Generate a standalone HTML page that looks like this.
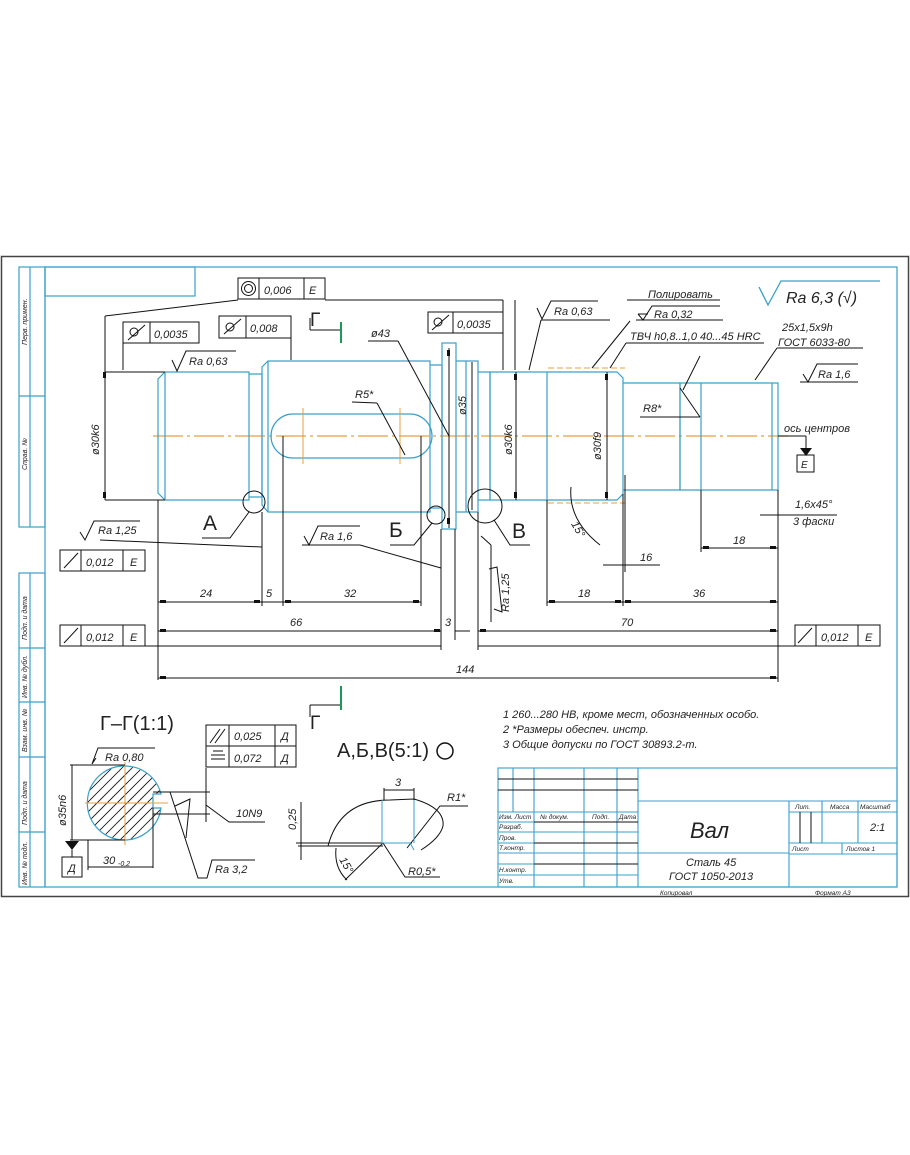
<!DOCTYPE html>
<html><head><meta charset="utf-8"><style>
html,body{margin:0;padding:0;background:#fff;}
svg{display:block;}
text{font-family:"Liberation Sans",sans-serif;font-style:italic;fill:#222;}
</style></head><body>
<svg width="910" height="1155" viewBox="0 0 910 1155" xmlns="http://www.w3.org/2000/svg">
<rect x="0" y="0" width="910" height="1155" fill="#fff"/>
<rect x="1.5" y="256.5" width="907" height="640" fill="none" stroke="#444" stroke-width="1.5"/>
<g fill="none" stroke="#3aa0c8" stroke-width="1.2">
<rect x="45" y="267" width="852" height="620"/>
<rect x="19" y="267" width="26" height="260"/>
<line x1="30" y1="267" x2="30" y2="527"/>
<line x1="19" y1="396" x2="45" y2="396"/>
<rect x="19" y="573" width="26" height="314"/>
<line x1="30" y1="573" x2="30" y2="887"/>
<line x1="19" y1="648" x2="45" y2="648"/>
<line x1="19" y1="702" x2="45" y2="702"/>
<line x1="19" y1="757" x2="45" y2="757"/>
<line x1="19" y1="832" x2="45" y2="832"/>
<rect x="45" y="267" width="150" height="29"/>
</g>
<g font-size="7" >
<text transform="translate(27,345) rotate(-90)">Перв. примен.</text>
<text transform="translate(27,470) rotate(-90)">Справ. №</text>
<text transform="translate(27,640) rotate(-90)">Подп. и дата</text>
<text transform="translate(27,698) rotate(-90)">Инв. № дубл.</text>
<text transform="translate(27,752) rotate(-90)">Взам. инв. №</text>
<text transform="translate(27,825) rotate(-90)">Подп. и дата</text>
<text transform="translate(27,885) rotate(-90)">Инв. № подл.</text>
</g>

<line x1="153" y1="436" x2="788" y2="436" stroke="#e8a040" stroke-width="1.2" stroke-dasharray="30,4,3,4"/>

<g fill="none" stroke="#3aa0c8" stroke-width="1.2">
<path d="M165,372 L249,372 L249,500 L165,500 L158,493 L158,379 Z"/>
<line x1="165" y1="372" x2="165" y2="500"/>
<path d="M249,374 L262,374 L262,497 L249,497"/>
<path d="M268,361 L430,361 L430,512 L268,512 L262,505 L262,367 Z"/>
<line x1="268" y1="361" x2="268" y2="512"/>
<path d="M430,365 L442,365 L442,508 L430,508"/>
<rect x="442" y="343" width="14" height="186"/>
<path d="M456,361 L478,361 L478,512 L456,512"/>
<line x1="466" y1="361" x2="466" y2="512"/>
<path d="M478,372 L490,372 L490,500 L478,500"/>
<path d="M490,372 L617,372 L623,378 L623,494 L617,500 L490,500 Z"/>
<line x1="547" y1="372" x2="547" y2="500"/>
<path d="M623,383 L680,383 L680,490 L623,490"/>
<path d="M680,383 L778,383 L778,490 L680,490 Z"/>
<line x1="701" y1="383" x2="701" y2="490"/>
<line x1="772" y1="383" x2="772" y2="490"/>
<path d="M293,414 L410,414 A22,22 0 0 1 410,458 L293,458 A22,22 0 0 1 293,414 Z"/>
</g>
<g stroke="#e8a040" stroke-width="1">
<line x1="303" y1="408" x2="303" y2="464"/>
<line x1="400" y1="408" x2="400" y2="464"/>
<line x1="548" y1="368" x2="625" y2="368" stroke-dasharray="6,3"/>
<line x1="548" y1="503" x2="625" y2="503" stroke-dasharray="6,3"/>
</g>

<g fill="none" stroke="#111" stroke-width="1">
<line x1="158" y1="500" x2="158" y2="680"/>
<line x1="262" y1="512" x2="262" y2="606"/>
<line x1="283" y1="436" x2="283" y2="606"/>
<line x1="421" y1="436" x2="421" y2="606"/>
<line x1="441" y1="529" x2="441" y2="650"/>
<line x1="455" y1="529" x2="455" y2="640"/>
<line x1="478" y1="512" x2="478" y2="650"/>
<line x1="547" y1="500" x2="547" y2="606"/>
<line x1="623" y1="494" x2="623" y2="606"/>
<line x1="778" y1="490" x2="778" y2="682"/>
<line x1="701" y1="490" x2="701" y2="552"/>
<line x1="625" y1="475" x2="625" y2="572"/>
<line x1="158" y1="602" x2="262" y2="602"/>
<line x1="262" y1="602" x2="283" y2="602"/>
<line x1="283" y1="602" x2="421" y2="602"/>
<line x1="547" y1="602" x2="778" y2="602"/>
<line x1="158" y1="631" x2="441" y2="631"/>
<line x1="455" y1="631" x2="470" y2="631"/>
<line x1="478" y1="631" x2="778" y2="631"/>
<line x1="60" y1="646" x2="441" y2="646"/>
<line x1="478" y1="646" x2="795" y2="646"/>
<line x1="158" y1="678" x2="778" y2="678"/>
<line x1="701" y1="548" x2="778" y2="548"/>
<line x1="603" y1="565" x2="660" y2="565"/>
<line x1="760" y1="515" x2="815" y2="515"/>
<line x1="105" y1="372" x2="165" y2="372"/>
<line x1="105" y1="500" x2="165" y2="500"/>
<line x1="105" y1="366" x2="105" y2="500"/>
<line x1="105" y1="316" x2="105" y2="372"/>
<line x1="105" y1="316" x2="238" y2="300"/>
<line x1="123" y1="343" x2="123" y2="370"/>
<line x1="291" y1="338" x2="291" y2="360"/>
<line x1="449" y1="348" x2="449" y2="528"/>
<line x1="472" y1="362" x2="472" y2="510"/>
<line x1="516" y1="372" x2="516" y2="500"/>
<line x1="607" y1="372" x2="607" y2="500"/>
<line x1="503" y1="322" x2="503" y2="300"/>
<line x1="503" y1="300" x2="325" y2="300"/>
<line x1="503" y1="322" x2="503" y2="370"/>
<line x1="515" y1="300" x2="515" y2="370"/>
<line x1="368" y1="341" x2="398" y2="341"/>
<line x1="398" y1="341" x2="449" y2="436"/>
<line x1="352" y1="402" x2="377" y2="403"/>
<line x1="377" y1="403" x2="405" y2="455"/>
<circle cx="254" cy="502" r="11"/>
<path d="M249,512 L230,538 L202,538"/>
<circle cx="436" cy="515" r="9"/>
<path d="M432,523 L414,545 L390,545"/>
<circle cx="485" cy="506" r="17"/>
<path d="M494,520 L510,545 L530,545"/>
<line x1="100" y1="540" x2="262" y2="547"/>
<line x1="302" y1="545" x2="360" y2="545"/>
<line x1="360" y1="545" x2="441" y2="568"/>
<line x1="481" y1="536" x2="491" y2="545"/>
<line x1="491" y1="545" x2="491" y2="622"/>
<line x1="541" y1="320" x2="610" y2="320"/>
<line x1="541" y1="320" x2="529" y2="370"/>
<line x1="627" y1="300" x2="720" y2="300"/>
<line x1="636" y1="320" x2="723" y2="320"/>
<line x1="630" y1="321" x2="592" y2="368"/>
<line x1="626" y1="343" x2="764" y2="343"/>
<line x1="626" y1="343" x2="610" y2="368"/>
<line x1="777" y1="348" x2="863" y2="348"/>
<line x1="777" y1="348" x2="755" y2="380"/>
<line x1="800" y1="382" x2="858" y2="382"/>
<line x1="700" y1="417" x2="640" y2="417"/>
<line x1="700" y1="417" x2="680" y2="388"/>
<line x1="700" y1="356" x2="683" y2="390"/>
<line x1="778" y1="436" x2="806" y2="436"/>
<line x1="806" y1="436" x2="806" y2="455"/>
<line x1="787" y1="515" x2="837" y2="515"/>
<path d="M571,487 Q568,520 600,545"/>
</g>
<polygon points="800,448 812,448 806,456" fill="#111"/>
<rect x="797" y="455" width="17" height="17" fill="none" stroke="#111"/>
<text x="801" y="468" font-size="10">E</text>

<g fill="#111">
<rect x="160" y="600" width="6" height="3"/><rect x="254" y="600" width="6" height="3"/>
<rect x="285" y="600" width="6" height="3"/><rect x="413" y="600" width="6" height="3"/>
<rect x="549" y="600" width="6" height="3"/><rect x="615" y="600" width="6" height="3"/>
<rect x="625" y="600" width="6" height="3"/><rect x="770" y="600" width="6" height="3"/>
<rect x="160" y="629" width="6" height="3"/><rect x="434" y="629" width="6" height="3"/>
<rect x="480" y="629" width="6" height="3"/><rect x="770" y="629" width="6" height="3"/>
<rect x="160" y="676" width="6" height="3"/><rect x="770" y="676" width="6" height="3"/>
<rect x="703" y="546" width="6" height="3"/><rect x="770" y="546" width="6" height="3"/>
<rect x="103" y="372" width="3" height="6"/><rect x="103" y="492" width="3" height="6"/>
<rect x="514" y="374" width="3" height="6"/><rect x="514" y="492" width="3" height="6"/>
<rect x="605" y="374" width="3" height="6"/><rect x="605" y="492" width="3" height="6"/>
<rect x="447" y="350" width="3" height="6"/><rect x="447" y="518" width="3" height="6"/>
</g>

<g fill="none" stroke="#111" stroke-width="1">
<rect x="238" y="278" width="87" height="21"/><line x1="259" y1="278" x2="259" y2="299"/><line x1="304" y1="278" x2="304" y2="299"/>
<circle cx="248.5" cy="288.5" r="7"/><circle cx="248.5" cy="288.5" r="4"/>
<rect x="123" y="322" width="76" height="21"/><line x1="150" y1="322" x2="150" y2="343"/>
<rect x="219" y="316" width="72" height="22"/><line x1="246" y1="316" x2="246" y2="338"/>
<rect x="428" y="312" width="75" height="21"/><line x1="453" y1="312" x2="453" y2="333"/>
<rect x="60" y="550" width="85" height="21"/><line x1="81" y1="550" x2="81" y2="571"/><line x1="123" y1="550" x2="123" y2="571"/>
<rect x="60" y="625" width="85" height="21"/><line x1="81" y1="625" x2="81" y2="646"/><line x1="123" y1="625" x2="123" y2="646"/>
<rect x="795" y="625" width="85" height="21"/><line x1="816" y1="625" x2="816" y2="646"/><line x1="858" y1="625" x2="858" y2="646"/>
<path d="M64,568 L78,553 M798,643 L812,628 M64,643 L78,628"/>
<path d="M128,340 L145,325 M130,332 a4,4 0 1 0 8,0 a4,4 0 1 0 -8,0 M224,334 L241,319 M226,327 a4,4 0 1 0 8,0 a4,4 0 1 0 -8,0 M432,330 L449,315 M434,322 a4,4 0 1 0 8,0 a4,4 0 1 0 -8,0"/>
</g>
<g font-size="11">
<text x="264" y="294">0,006</text><text x="309" y="294">E</text>
<text x="154" y="338">0,0035</text>
<text x="250" y="332">0,008</text>
<text x="457" y="328">0,0035</text>
<text x="86" y="566">0,012</text><text x="130" y="566">E</text>
<text x="86" y="641">0,012</text><text x="130" y="641">E</text>
<text x="821" y="641">0,012</text><text x="865" y="641">E</text>
</g>

<g fill="none" stroke="#111" stroke-width="1">
<path d="M172,360 L177,371 L186,351 L236,351"/>
<path d="M537,308 L542,319 L551,301 L598,301"/>
<path d="M80,532 L85,540 L94,521 L140,521"/>
<path d="M304,536 L309,545 L318,526 L360,526"/>
<path d="M638,314 L643,320 L652,306 L720,306 M638,314 L648,314"/>
<path d="M803,374 L808,382 L817,364 L858,364"/>
<path d="M759,287 L768,305 L781,281 L880,281" stroke="#3aa0c8" stroke-width="1.3"/>
<path d="M494,609 L502,612 L497,567 L489,569"/>
</g>
<g font-size="11">
<text x="189" y="365">Ra 0,63</text>
<text x="554" y="315">Ra 0,63</text>
<text x="98" y="534">Ra 1,25</text>
<text x="320" y="540">Ra 1,6</text>
<text x="648" y="298">Полировать</text>
<text x="654" y="318">Ra 0,32</text>
<text x="630" y="340">ТВЧ h0,8..1,0  40...45 HRC</text>
<text x="782" y="331">25х1,5х9h</text>
<text x="778" y="346">ГОСТ 6033-80</text>
<text x="818" y="378">Ra 1,6</text>
<text x="786" y="303" font-size="16">Ra 6,3 (√)</text>
<text x="784" y="432">ось центров</text>
<text x="643" y="412">R8*</text>
<text x="355" y="398">R5*</text>
<text x="371" y="337">ø43</text>
<text x="795" y="508">1,6х45°</text>
<text x="793" y="525">3 фаски</text>
<text x="733" y="544">18</text>
<text x="640" y="561">16</text>
<text x="200" y="597">24</text>
<text x="266" y="597">5</text>
<text x="344" y="597">32</text>
<text x="578" y="597">18</text>
<text x="693" y="597">36</text>
<text x="290" y="626">66</text>
<text x="445" y="626">3</text>
<text x="621" y="626">70</text>
<text x="456" y="673">144</text>
<text x="572" y="528" transform="rotate(60,575,525)">15°</text>
<text transform="translate(99,455) rotate(-90)">ø30k6</text>
<text transform="translate(466,415) rotate(-90)">ø35</text>
<text transform="translate(512,455) rotate(-90)">ø30k6</text>
<text transform="translate(601,460) rotate(-90)">ø30f9</text>
<text transform="translate(509,612) rotate(-90)">Ra 1,25</text>
</g>
<text x="203" y="530" font-size="21" style="font-style:normal">А</text>
<text x="389" y="537" font-size="21" style="font-style:normal">Б</text>
<text x="512" y="538" font-size="21" style="font-style:normal">В</text>
<g stroke="#111" fill="none">
<path d="M310,330 L340,330 M310,330 L310,318"/>
<path d="M310,705 L340,705 M310,705 L310,717"/>
</g>
<line x1="341" y1="322" x2="341" y2="343" stroke="#1a9a5a" stroke-width="2"/>
<line x1="341" y1="686" x2="341" y2="710" stroke="#1a9a5a" stroke-width="2"/>
<text x="310" y="326" font-size="19" style="font-style:normal">Г</text>
<text x="310" y="729" font-size="19" style="font-style:normal">Г</text>

<text x="100" y="730" font-size="20" style="font-style:normal">Г–Г(1:1)</text>
<defs><clipPath id="cc"><path d="M125,766 A37,37 0 1 0 161,808 L153,808 L153,794 L161,794 A37,37 0 0 0 125,766 Z"/></clipPath></defs>
<g clip-path="url(#cc)" stroke="#111" stroke-width="0.8">
<path d="M80,790 l40,-40 M80,800 l50,-50 M80,810 l60,-60 M80,820 l70,-70 M80,830 l80,-80 M80,840 l90,-90 M85,845 l90,-90 M95,845 l80,-80 M105,845 l70,-70 M115,845 l60,-60 M125,845 l50,-50 M135,845 l40,-40"/>
</g>
<path d="M125,766 A37,37 0 1 0 161,808 L153,808 L153,794 L161,794 A37,37 0 0 0 125,766 Z" fill="none" stroke="#3aa0c8" stroke-width="1.2"/>
<g stroke="#e8a040"><line x1="85" y1="803" x2="168" y2="803"/><line x1="125" y1="762" x2="125" y2="845"/></g>
<g fill="none" stroke="#111">
<path d="M70,765 L125,765 M72,765 L72,840 M70,840 L125,840 M88,840 L88,870 M153,808 L153,868 M88,867 L153,867"/>
<path d="M92,764 L98,748 L155,748 M92,764 L96,758"/>
<path d="M153,792 L210,792 M153,814 L210,814 M206,768 L206,822 M206,805 L229,822 L265,822"/>
<path d="M170,792 L198,878 L207,878 L212,860 L255,860 M175,806 L190,799 L186,838"/>
<rect x="206" y="725" width="90" height="42"/>
<path d="M206,746 L296,746 M229,725 L229,767 M275,725 L275,767 M210,743 L220,729 M215,743 L225,729 M211,755 L225,755 M211,759 L225,759 M213,751 L223,751"/>
<rect x="62" y="857" width="20" height="20"/>
</g>
<polygon points="65,841 79,841 72,850" fill="#111"/>
<line x1="72" y1="850" x2="72" y2="857" stroke="#111"/>
<g font-size="11">
<text x="105" y="761">Ra 0,80</text>
<text transform="translate(66,826) rotate(-90)">ø35n6</text>
<text x="103" y="864">30</text><text x="118" y="866" font-size="7">-0,2</text>
<text x="68" y="872">Д</text>
<text x="236" y="817">10N9</text>
<text x="215" y="873">Ra 3,2</text>
<text x="234" y="740">0,025</text><text x="281" y="740">Д</text>
<text x="234" y="762">0,072</text><text x="281" y="762">Д</text>
</g>

<text x="337" y="757" font-size="20" style="font-style:normal">А,Б,В(5:1)</text>
<circle cx="445" cy="751" r="8" fill="none" stroke="#111" stroke-width="1.5"/>
<g fill="none" stroke="#111">
<path d="M328,846 Q340,800 390,800 L414,799 Q445,808 443,826 Q440,838 421,850"/>
<path d="M298,843 L383,843 L412,843 M298,846 L383,846"/>
<path d="M383,843 L345,880 M383,843 L405,877 L440,877"/>
<path d="M384,790 L414,790 M384,800 L384,788 M414,800 L414,788"/>
<path d="M301,802 L301,860 M296,843 L306,843"/>
<path d="M407,848 L440,806 L468,806"/>
<path d="M336,848 Q334,868 347,880"/>
</g>
<g stroke="#3aa0c8" fill="none"><path d="M382,800 L382,843 L410,843 L414,850 M414,800 L414,843"/></g>
<g font-size="11">
<text x="395" y="786">3</text>
<text x="447" y="801">R1*</text>
<text x="408" y="875">R0,5*</text>
<text transform="translate(296,830) rotate(-90)">0,25</text>
<text x="340" y="866" transform="rotate(60,345,862)">15°</text>
</g>

<g font-size="11">
<text x="503" y="718">1 260...280 НВ, кроме мест, обозначенных особо.</text>
<text x="503" y="733">2  *Размеры обеспеч. инстр.</text>
<text x="503" y="748">3 Общие допуски по ГОСТ 30893.2-m.</text>
</g>

<g fill="none" stroke="#3aa0c8" stroke-width="1.1">
<rect x="498" y="768" width="399" height="119"/>
<line x1="638" y1="801" x2="897" y2="801"/>
<line x1="498" y1="779" x2="638" y2="779"/><line x1="498" y1="790" x2="638" y2="790"/>
<line x1="498" y1="812" x2="638" y2="812"/><line x1="498" y1="822" x2="638" y2="822"/>
<line x1="498" y1="832" x2="638" y2="832"/><line x1="498" y1="843" x2="638" y2="843"/>
<line x1="498" y1="853" x2="638" y2="853"/><line x1="498" y1="864" x2="638" y2="864"/>
<line x1="498" y1="875" x2="638" y2="875"/>
<line x1="513" y1="768" x2="513" y2="812"/>
<line x1="534" y1="768" x2="534" y2="887"/><line x1="584" y1="768" x2="584" y2="887"/>
<line x1="617" y1="768" x2="617" y2="887"/><line x1="638" y1="768" x2="638" y2="887"/>
<line x1="638" y1="853" x2="789" y2="853"/>
<line x1="789" y1="801" x2="789" y2="887"/>
<line x1="789" y1="812" x2="897" y2="812"/>
<line x1="789" y1="843" x2="897" y2="843"/>
<line x1="789" y1="854" x2="897" y2="854"/>
<line x1="822" y1="801" x2="822" y2="843"/><line x1="858" y1="801" x2="858" y2="843"/>
<line x1="842" y1="843" x2="842" y2="854"/>
</g>
<g stroke="#111"><line x1="498" y1="779" x2="638" y2="779"/><line x1="498" y1="790" x2="638" y2="790"/><line x1="534" y1="822" x2="638" y2="822"/><line x1="534" y1="843" x2="638" y2="843"/><line x1="534" y1="864" x2="638" y2="864"/>
<line x1="800" y1="812" x2="800" y2="843"/><line x1="811" y1="812" x2="811" y2="843"/></g>
<g font-size="6.5">
<text x="499" y="819">Изм. Лист</text><text x="540" y="819">№ докум.</text><text x="592" y="819">Подп.</text><text x="619" y="819">Дата</text>
<text x="499" y="829">Разраб.</text><text x="499" y="840">Пров.</text><text x="499" y="850">Т.контр.</text>
<text x="499" y="872">Н.контр.</text><text x="499" y="883">Утв.</text>
<text x="795" y="809">Лит.</text><text x="830" y="809">Масса</text><text x="860" y="809">Масштаб</text>
<text x="792" y="851">Лист</text><text x="846" y="851">Листов   1</text>
<text x="660" y="895">Копировал</text><text x="815" y="895">Формат   А3</text>
</g>
<text x="690" y="838" font-size="22">Вал</text>
<text x="870" y="831" font-size="11">2:1</text>
<text x="686" y="866" font-size="11">Сталь 45</text>
<text x="669" y="880" font-size="11">ГОСТ 1050-2013</text>
</svg>
</body></html>
